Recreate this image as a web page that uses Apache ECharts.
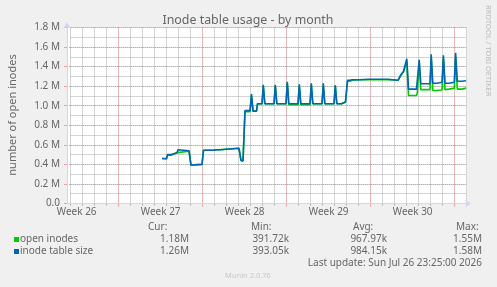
<!DOCTYPE html>
<html><head><meta charset="utf-8">
<script src="https://cdn.jsdelivr.net/npm/echarts@6/dist/echarts.min.js"></script>
<style>html,body{margin:0;padding:0;background:#F0F0F0}#c{width:497px;height:287px}</style>
</head><body><div id="c"></div>
<script>
// time in days from the left edge of the graph (33.33 days shown)
const days = [7.917,8.292,8.375,8.708,8.792,9.167,9.25,9.333,10.167,10.333,10.458,11.25,11.375,12.25,12.333,12.417,12.75,12.833,14.333,14.5,14.667,14.833,15.25,15.375,15.5,15.792,15.875,
16.25,16.358,16.483,17.25,17.358,17.483,18.25,18.358,18.483,19.25,19.358,19.483,20.25,20.358,20.483,21.25,21.358,21.483,22.25,22.358,22.483,22.875,22.958,23.208,
23.375,23.583,23.667,23.75,24.417,24.483,24.567,25.083,26.75,26.833,27.583,27.833,28.042,28.167,28.317,28.458,29.125,29.192,29.25,29.35,29.483,30.25,30.35,30.483,
30.833,30.917,31.25,31.367,31.5,31.833,31.917,32.275,32.383,32.525,32.917,33.0,33.25];
// values in millions
const tableSize = [0.46,0.46,0.50,0.50,0.52,0.52,0.55,0.54,0.54,0.393,0.40,0.40,0.545,0.545,0.555,0.55,0.55,0.562,0.565,0.44,0.435,0.95,0.95,1.12,0.945,0.945,1.02,
1.02,1.215,1.02,1.02,1.215,1.02,1.02,1.245,1.02,1.02,1.22,1.02,1.02,1.23,1.02,1.02,1.23,1.02,1.02,1.21,1.02,1.02,1.035,1.035,
1.26,1.26,1.245,1.265,1.265,1.275,1.265,1.27,1.27,1.26,1.26,1.32,1.35,1.36,1.48,1.17,1.17,1.185,1.185,1.47,1.225,1.225,1.525,1.23,
1.23,1.235,1.24,1.515,1.23,1.23,1.235,1.24,1.54,1.25,1.25,1.255,1.255];
const openInodes = [0.46,0.455,0.495,0.495,0.515,0.52,0.54,0.535,0.535,0.392,0.40,0.40,0.545,0.545,0.555,0.55,0.55,0.562,0.565,0.44,0.435,0.94,0.94,1.10,0.945,0.945,1.02,
1.02,1.20,1.02,1.02,1.20,1.02,1.02,1.23,1.01,1.01,1.20,1.01,1.01,1.21,1.02,1.02,1.21,1.02,1.02,1.20,1.02,1.02,1.04,1.04,
1.25,1.25,1.245,1.26,1.265,1.27,1.26,1.265,1.265,1.255,1.26,1.31,1.35,1.36,1.45,1.105,1.105,1.13,1.13,1.44,1.165,1.165,1.49,1.155,
1.155,1.16,1.16,1.48,1.165,1.17,1.18,1.18,1.50,1.17,1.17,1.175,1.18];
const weekLabels = ['Week 26','Week 27','Week 28','Week 29','Week 30'];
const seriesNames = ['open inodes','inode table size'];
const seriesColors = ['#00CC00','#0066B3'];
const statHeaders = ['Cur:','Min:','Avg:','Max:'];
const statValues = [['1.18M','391.72k','967.97k','1.55M'],['1.26M','393.05k','984.15k','1.58M']];

const FONT = 'Noto Sans';
const TXT = '#666666';
const GRAY = '#A9A9A9';
const RED = '#F09A9A';
const AXIS = '#CFD6F8';

const gTop = 27.5, gH = 176;
const chart = echarts.init(document.getElementById('c'), null, {renderer:'canvas'});

const graphics = [];
const T = (x, y, text, o) => graphics.push({type:'text', x, y, silent:true,
  style: Object.assign({text, font: '10px "' + FONT + '"', fill: TXT, textAlign:'left', textVerticalAlign:'middle'}, o||{})});
T(248, 20, 'Inode table usage - by month', {font:'12.4px "'+FONT+'"', textAlign:'center'});
graphics.push({type:'text', x: 12.5, y: 115, rotation: Math.PI/2, silent:true,
  style:{text:'number of open inodes', font:'11px "'+FONT+'"', fill: TXT, textAlign:'center', textVerticalAlign:'middle'}});
graphics.push({type:'text', x: 488.5, y: 5, rotation: -Math.PI/2, silent:true,
  style:{text:'RRDTOOL / TOBI OETIKER', font:'7.6px "'+FONT+'"', fill:'#BDBDBD', textAlign:'left', textVerticalAlign:'middle'}});
const hdrX = [148, 251, 353, 456];
const valX = [189, 289, 387, 482];
statHeaders.forEach((s,i)=>T(hdrX[i], 227, s));
seriesNames.forEach((n,r)=>{
  const y = 239.5 + r*12;
  graphics.push({type:'rect', shape:{x:14, y:y-2.5, width:5, height:5}, style:{fill:seriesColors[r]}, silent:true});
  T(20, y, n);
  statValues[r].forEach((v,i)=>T(valX[i], y, v, {textAlign:'right'}));
});
T(482, 263.5, 'Last update: Sun Jul 26 23:25:00 2026', {textAlign:'right'});
T(248, 275.5, 'Munin 2.0.76', {font:'7.5px "'+FONT+'"', fill:'#C8C8C8', textAlign:'center'});

const grayLine = {show:true, lineStyle:{color:GRAY, type:[1,1], width:1}};
const redLine = {show:true, lineStyle:{color:RED, type:[1,1], width:1}};
const option = {
  animation:false,
  backgroundColor:'#F0F0F0',
  textStyle:{fontFamily: FONT},
  grid:[
    {left:67, top:gTop, width:400, height:gH, show:true, backgroundColor:'#FFFFFF', borderWidth:0, z:-5},
    {left:70.5, top:gTop, width:396, height:gH, show:false},
    {left:118.5, top:gTop, width:336, height:gH, show:false},
    {left:76.7, top:gTop, width:336, height:gH, show:false}
  ],
  xAxis:[
    {gridIndex:0, type:'value', min:0, max:400/12, axisLabel:{show:false}, axisTick:{show:false}, splitLine:{show:false}, z:3,
      axisLine:{show:true, lineStyle:{color:AXIS, width:1}, symbol:['none','arrow'], symbolSize:[6,6], symbolOffset:[0,4]}},
    {gridIndex:1, type:'value', min:0, max:33, interval:1, axisLabel:{show:false}, axisLine:{show:false}, z:0,
      axisTick:{show:true, length:2, lineStyle:{color:GRAY}}, splitLine:grayLine},
    {gridIndex:2, type:'value', min:0, max:28, interval:7, axisLabel:{show:false}, axisLine:{show:false}, z:1,
      axisTick:{show:true, length:3, lineStyle:{color:RED}}, splitLine:redLine},
    {gridIndex:3, type:'value', min:0, max:28, interval:7, axisLine:{show:false}, axisTick:{show:false}, splitLine:{show:false},
      axisLabel:{show:true, margin:4, color:TXT, fontSize:10, fontFamily:FONT, formatter:(v)=>weekLabels[Math.round(v/7)]}}
  ],
  yAxis:[
    {gridIndex:0, type:'value', min:0, max:1.8, interval:0.2, z:2,
      axisLine:{show:true, lineStyle:{color:AXIS, width:1}, symbol:['none','arrow'], symbolSize:[6,6], symbolOffset:[0,5]},
      axisTick:{show:true, length:3, lineStyle:{color:RED}},
      axisLabel:{color:TXT, fontSize:10, fontFamily:FONT, margin:7, formatter:(v)=> v===0 ? '0.0' : v.toFixed(1)+' M'},
      splitLine:redLine},
    {gridIndex:1, type:'value', min:0, max:1.8, interval:0.1, z:0,
      axisLine:{show:false}, axisTick:{show:false}, axisLabel:{show:false}, splitLine:grayLine},
    {gridIndex:2, show:false, min:0, max:1},
    {gridIndex:3, show:false, min:0, max:1}
  ],
  graphic: graphics,
  series:[
    {name:seriesNames[0], type:'line', xAxisIndex:0, yAxisIndex:0, symbol:'none', z:3,
      lineStyle:{color:seriesColors[0], width:1.6}, data: days.map((d,i)=>[d, openInodes[i]])},
    {name:seriesNames[1], type:'line', xAxisIndex:0, yAxisIndex:0, symbol:'none', z:4,
      lineStyle:{color:seriesColors[1], width:1.6}, data: days.map((d,i)=>[d, tableSize[i]])}
  ]
};
chart.setOption(option);
</script></body></html>
